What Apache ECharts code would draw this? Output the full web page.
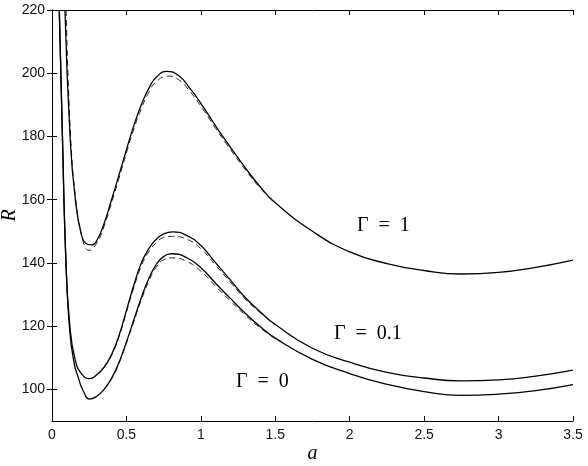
<!DOCTYPE html>
<html style="height: 100%">
  <head>
    <meta charset="UTF-8">
  </head>
  <body style="height: 100%; margin: 0; background: #fff">
    <div id="container" style="width: 588px; height: 466px"></div>
    <script src="https://cdn.jsdelivr.net/npm/echarts@6/dist/echarts.min.js"></script>
    <script>
    // tick labels
    var xTicks = [0, 0.5, 1, 1.5, 2, 2.5, 3, 3.5];
    var yTicks = [100, 120, 140, 160, 180, 200, 220];

    // Gamma = 0, solid
    var g0X = [0.049, 0.07, 0.094, 0.12, 0.15, 0.175, 0.21, 0.255, 0.3, 0.35, 0.4, 0.45, 0.5, 0.55, 0.6, 0.65, 0.7, 0.75, 0.81, 0.9, 1.0, 1.1, 1.2, 1.3, 1.4, 1.5, 1.75, 2.0, 2.25, 2.5, 2.75, 3.0, 3.25, 3.5];
    var g0Y = [220, 180, 140, 118, 108, 104, 99.5, 96.9, 97.8, 100, 103.5, 108.5, 115, 122, 129, 135, 139.5, 142, 142.9, 141.8, 138.5, 133.5, 128.7, 124, 119.8, 116.2, 109.5, 105, 101.6, 99.3, 98.1, 98.5, 99.6, 101.5];
    // Gamma = 0.1, solid
    var g01X = [0.049, 0.07, 0.094, 0.12, 0.155, 0.2, 0.255, 0.3, 0.35, 0.4, 0.45, 0.5, 0.55, 0.6, 0.65, 0.7, 0.75, 0.81, 0.9, 1.0, 1.1, 1.2, 1.3, 1.4, 1.5, 1.75, 2.0, 2.25, 2.5, 2.75, 3.0, 3.25, 3.5];
    var g01Y = [220, 180, 140, 120, 109.5, 104.8, 103.4, 104.6, 107, 111, 117, 125, 133, 140, 144.5, 147.5, 149.2, 149.8, 148.8, 145.5, 140, 134.5, 129, 124.5, 120.5, 113, 108.6, 105.4, 103.6, 102.7, 103, 104.2, 106.1];
    // Gamma = 1, solid
    var g1X = [0.087, 0.121, 0.155, 0.2, 0.235, 0.267, 0.3, 0.35, 0.4, 0.45, 0.5, 0.55, 0.6, 0.65, 0.7, 0.771, 0.85, 0.927, 1.0, 1.1, 1.2, 1.3, 1.4, 1.5, 1.75, 2.0, 2.25, 2.5, 2.75, 3.0, 3.25, 3.5];
    var g1Y = [220, 180.4, 160.8, 148.5, 146, 145.7, 147, 152.5, 160, 167.8, 175.8, 183.5, 190, 195.2, 198.7, 200.6, 199.3, 195.2, 190.5, 183.3, 176.5, 170, 164, 159, 150, 143.5, 139.8, 137.6, 136.5, 137, 138.6, 140.9];

    // dashed companions
    var d0X = [0.35, 0.4, 0.45, 0.5, 0.55, 0.6, 0.65, 0.7, 0.75, 0.81, 0.9, 1.0, 1.1, 1.2, 1.3, 1.4, 1.5];
    var d0Y = [100, 103.3, 108.2, 114.6, 121.5, 128.3, 134.2, 138.6, 141, 141.6, 140.6, 137.4, 132.6, 127.9, 123.4, 119.4, 116];
    var d01X = [0.35, 0.4, 0.45, 0.5, 0.55, 0.6, 0.65, 0.7, 0.75, 0.81, 0.9, 1.0, 1.1, 1.2, 1.3, 1.4, 1.5];
    var d01Y = [107, 110.8, 116.6, 124.4, 132.2, 139, 143.5, 146.4, 148, 148.4, 147.6, 144.5, 139.2, 133.8, 128.5, 124.2, 120.3];
    var d1X = [0.095, 0.125, 0.16, 0.2, 0.25, 0.3, 0.35, 0.4, 0.45, 0.5, 0.55, 0.6, 0.65, 0.7, 0.78, 0.85, 0.927, 1.0, 1.1, 1.2, 1.3, 1.4, 1.5];
    var d1Y = [220, 180, 160, 148.5, 144, 146.2, 151.6, 159, 166.8, 174.8, 182.4, 188.8, 193.9, 197.3, 199.1, 198, 194.2, 189.6, 182.5, 175.8, 169.4, 163.6, 158.8];

    function pairs(xs, ys) {
      return xs.map(function (x, i) { return [x, ys[i]]; });
    }

    var dom = document.getElementById('container');
    var myChart = echarts.init(dom, null, { renderer: 'canvas' });

    var lab = { color: '#111', fontSize: 14, fontFamily: 'Liberation Sans', margin: 7 };
    var axLine = { show: true, lineStyle: { color: '#000', width: 1 } };
    var tick = { show: true, inside: true, length: 5, lineStyle: { color: '#000' } };
    var nameStyle = { fontFamily: 'Liberation Serif', fontStyle: 'italic', fontSize: 20, color: '#000' };

    function solid(xs, ys) {
      return {
        type: 'line', data: pairs(xs, ys), showSymbol: false, smooth: 0.5,
        lineStyle: { color: '#000', width: 1.3 }, z: 3
      };
    }
    function dashed(xs, ys) {
      return {
        type: 'line', data: pairs(xs, ys), showSymbol: false, smooth: 0.5,
        lineStyle: { color: '#222', width: 1, type: [6, 4] }, z: 2
      };
    }

    var option = {
      animation: false,
      backgroundColor: '#fff',
      grid: { left: 52, right: 15, top: 10, bottom: 45, outerBoundsMode: 'none', containLabel: false },
      xAxis: [
        {
          type: 'value', min: 0, max: 3.5, interval: 0.5,
          name: 'a', nameLocation: 'middle', nameGap: 23, nameMoveOverlap: false,
          nameTextStyle: nameStyle,
          axisLine: axLine, axisTick: tick, splitLine: { show: false },
          axisLabel: Object.assign({ customValues: xTicks }, lab)
        },
        {
          type: 'value', min: 0, max: 3.5, interval: 0.5, position: 'top',
          axisLine: axLine, axisTick: tick, splitLine: { show: false },
          axisLabel: { show: false }
        }
      ],
      yAxis: [
        {
          type: 'value', min: 90, max: 220,
          name: 'R', nameLocation: 'middle', nameGap: 32, nameRotate: 90, nameMoveOverlap: false,
          nameTextStyle: nameStyle,
          axisLine: axLine,
          axisTick: Object.assign({ customValues: yTicks }, tick),
          splitLine: { show: false },
          axisLabel: Object.assign({ customValues: yTicks }, lab)
        },
        {
          type: 'value', min: 90, max: 220, position: 'right',
          axisLine: axLine,
          axisTick: Object.assign({ customValues: yTicks }, tick),
          splitLine: { show: false },
          axisLabel: { show: false }
        }
      ],
      graphic: [
        { type: 'text', left: 357, top: 216, style: { text: 'Γ\u2002=\u20021', font: '20px "Liberation Serif"', fill: '#000' } },
        { type: 'text', left: 334, top: 324, style: { text: 'Γ\u2002=\u20020.1', font: '20px "Liberation Serif"', fill: '#000' } },
        { type: 'text', left: 236, top: 372, style: { text: 'Γ\u2002=\u20020', font: '20px "Liberation Serif"', fill: '#000' } }
      ],
      series: [
        dashed(d0X, d0Y),
        dashed(d01X, d01Y),
        dashed(d1X, d1Y),
        solid(g0X, g0Y),
        solid(g01X, g01Y),
        solid(g1X, g1Y)
      ]
    };

    myChart.setOption(option);
    window.addEventListener('resize', myChart.resize);
    </script>
  </body>
</html>
